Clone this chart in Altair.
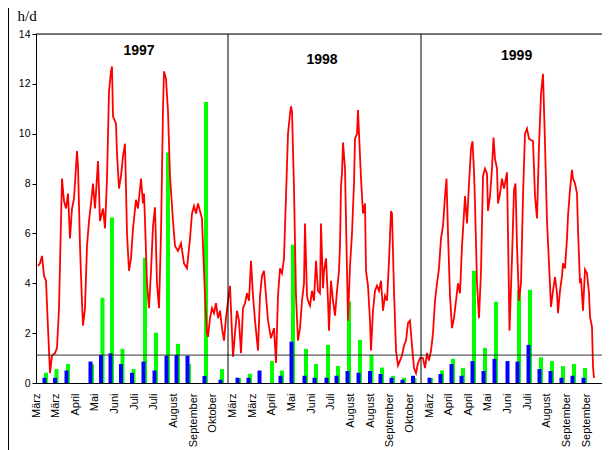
import altair as alt
import pandas as pd

# x-axis category labels (one every 9.825 index units)
month_labels = ["März", "März", "April", "Mai", "Juni", "Juli", "Juli", "August", "September", "Oktober",
                "März", "März", "April", "Mai", "Juni", "Juli", "August", "August", "September", "Oktober",
                "März", "April", "April", "Mai", "Juni", "Juli", "August", "September", "September", "Oktober"]
label_step = 9.825
year_names = ["1997", "1998", "1999"]
year_title_pos = [51.5, 143, 240.3]
year_title_val = [13.31, 12.95, 13.13]
year_bounds = [96, 192.5]
threshold = 1.12

# daily sunshine line (index, h/d)
line97_idx = [1, 2, 3, 4, 5, 6, 7, 8, 9.5, 10.5, 11.5, 12.5, 13, 14, 15, 16, 17, 18, 19, 20.5, 21, 22, 23, 23.5,
              24.5, 25.5, 26.5, 27.5, 28.5, 29.5, 31, 32, 33.5, 34.5, 35.5, 36.5, 37.5, 38, 38.5, 40, 40.5,
              41.5, 42.5, 43.5, 44.5, 45.5, 46.5, 47.5, 48.5, 50, 51, 52.5, 53.5, 54, 54.5, 55.5, 56.5, 57.5, 58.5,
              59.5, 60.5, 61.5, 62.5, 63.5, 64, 65, 66, 67, 68.5, 69.5, 71, 72.5, 74, 75.5, 77, 78, 79, 80, 81,
              82, 83, 83.5, 84.5, 85.5, 86, 87, 88, 89, 90, 91, 92, 93, 94, 95]
line97_val = [4.7, 4.8, 5.1, 4.3, 4.1, 2.2, 0.4, 1.1, 1.2, 1.4, 3.0, 6.5, 8.2, 7.3, 7.0, 7.6, 5.8, 7.0, 7.4, 9.3,
              8.7, 5.5, 3.2, 2.3, 3.0, 5.5, 6.5, 7.2, 8.0, 7.0, 8.9, 6.5, 7.0, 6.2, 8.2, 11.7, 12.5, 12.7, 10.7,
              10.4, 9.2, 7.8, 8.3, 9.1, 9.6, 6.0, 4.5, 5.0, 6.2, 7.35, 7.0, 8.2, 7.2, 7.6, 6.5, 4.0, 3.0, 4.5, 6.3,
              7.05, 4.0, 3.0, 6.0, 11.0, 12.5, 12.2, 10.9, 8.3, 6.5, 5.5, 5.3, 5.6, 4.8, 4.6, 5.8, 6.8, 7.1, 6.8,
              7.2, 6.9, 6.6, 5.5, 3.5, 2.0, 1.85, 2.6, 3.0, 2.8, 3.2, 2.6, 2.9, 2.2, 1.7, 2.6]
line98_idx = [96, 97, 98, 98.5, 99.5, 100.5, 101.5, 102.5, 103.5, 104.5, 105.5, 106.5, 107.5, 108.5, 109.5, 111,
              112, 113, 114, 115, 116, 117.5, 119, 120, 121, 122, 123, 124, 125, 126, 127, 127.5, 128, 129, 130,
              131, 132, 133, 134, 134.5, 135.5, 136, 137, 138, 139, 140, 141, 142, 142.5, 143.5, 144, 145, 146,
              146.5, 147.5, 148.5, 149.5, 150.5, 151.5, 152, 152.5, 153, 153.5, 154.5, 155.5, 156, 157, 158, 159,
              159.5, 160.5, 161, 162, 162.5, 163.5, 164.5, 165, 166, 167, 167.5, 168.5, 169.5, 170.5, 171.5, 172.5,
              173.5, 174.5, 175.5, 176.5, 177.5, 178, 179, 180, 181, 182, 183, 184, 185, 186, 187, 188, 189,
              190, 191, 192]
line98_val = [3.3, 3.9, 2.0, 1.05, 2.0, 2.9, 2.5, 1.2, 3.0, 3.2, 3.6, 3.3, 4.9, 3.5, 2.5, 1.3, 3.5, 4.3, 4.5, 3.5,
              2.5, 1.8, 2.2, 0.8, 3.5, 4.6, 4.4, 5.0, 7.5, 10.0, 10.8, 11.1, 10.9, 7.8, 3.5, 1.7, 2.2, 3.3, 4.0,
              6.4, 3.5, 3.3, 3.1, 3.7, 3.3, 4.9, 3.7, 3.6, 6.4, 3.8, 4.5, 5.0, 3.3,
              2.1, 4.1, 3.3, 2.7, 3.7, 4.5, 5.5, 7.9, 8.4, 9.65, 8.6, 4.5, 2.5, 4.7, 6.0, 8.0,
              9.8, 10.0, 10.95, 9.1, 8.2, 6.8, 7.2, 4.5, 3.9, 2.5, 1.3, 2.9, 3.7, 3.9, 3.7, 4.1,
              2.9, 3.5, 3.3, 4.9, 6.9, 6.8, 3.7, 1.3, 0.7, 0.9, 1.1, 1.5, 1.7, 2.4, 2.5, 1.5, 0.6,
              0.4, 0.8, 1.0]
line99_idx = [193.5, 194.5, 195.5, 196.5, 197.5, 198.5, 199.5, 200.5, 201.5, 202.5, 203.5, 204.5, 205.25, 206,
              207, 208, 209, 210, 211, 212, 213, 214, 214.5, 215.5, 216.5, 217.5, 218.25, 219, 219.5, 220.5,
              221.5, 222.5, 223.5, 224.5, 225.5, 226, 227, 228, 228.75, 229.5, 230.5, 231, 232, 233, 234, 235.5,
              236, 236.75, 238, 239, 239.75, 240.5, 241.5, 242.5, 243.5, 244.5, 245.5, 246.5, 247.5, 248.5,
              249.5, 250.5, 251.5, 252.5, 253.5, 254.5, 255.5, 256.5, 257.5, 258.5, 259.5, 260.5, 261, 262, 263,
              263.5, 264.5, 265.5, 266, 267, 268, 268.5, 269.5, 270.5, 271, 272, 272.5, 273.5, 274.5, 275.5,
              276.5, 277, 278, 278.5, 279]
line99_val = [1.0, 0.6, 1.2, 0.9, 1.3, 2.0, 3.3, 4.0, 4.6, 5.8, 6.3, 7.5, 8.2, 6.0,
              3.5, 2.2, 2.6, 3.3, 4.0, 3.6, 5.5, 6.8, 7.5, 6.4, 8.0, 9.4, 9.7, 8.5, 7.2, 4.0,
              2.6, 4.5, 8.3, 8.6, 8.4, 6.9, 7.5, 8.6, 9.85, 9.0, 8.6, 7.2, 7.6, 8.2, 7.8, 8.45,
              6.0, 2.1, 5.0, 7.75, 8.0, 5.5, 3.3, 4.0, 7.5, 10.0, 10.2, 9.8, 9.75, 9.7,
              7.5, 6.6, 9.5, 11.6, 12.4, 9.6, 6.5, 4.8, 3.05, 3.7, 4.25, 3.6, 2.8, 3.7, 4.3,
              4.8, 4.6, 5.8, 6.7, 7.75, 8.55, 8.2, 8.0, 7.6, 6.15, 4.0, 4.2, 2.9, 4.55, 4.4,
              3.6, 2.65, 2.25, 0.65, 0.2]

# periodic bars (index, green, blue)
bar_idx = [4.5, 9.75, 15.5, 27.5, 32.75, 37.5, 42.75, 48.25, 54, 59.5, 65.5, 70.5, 76, 84.5, 92.5,
           101, 106.5, 112, 117.5, 122.5, 128, 134.5, 139.5, 145.5, 150.5, 156, 161.5, 167.25, 172.5, 178, 183.5, 188.75,
           197, 202.5, 208, 213, 218.5, 224, 229.5, 236, 241, 246.5, 252, 257.5, 263, 268.5, 274]
green_val = [0.41, 0.56, 0.76, 0.76, 3.42, 6.64, 1.37, 0.56, 5.03, 2.02, 9.25, 1.57, 0.76, 11.27, 0.56,
             0.2, 0.37, 0, 0.88, 0.5, 5.55, 1.37, 0.76, 1.53, 0.68, 3.27, 1.73, 1.13, 0.62, 0.29, 0.21, 0.2,
             0.2, 0.5, 0.97, 0.6, 4.5, 1.41, 3.26, 0, 3.74, 3.74, 1.03, 0.88, 0.68, 0.76, 0.6]
blue_val = [0.21, 0.21, 0.5, 0.86, 1.13, 1.19, 0.76, 0.41, 0.86, 0.5, 1.1, 1.13, 1.1, 0.28, 0.13,
            0.21, 0.21, 0.5, 0, 0.29, 1.66, 0.29, 0.21, 0.21, 0.29, 0.48, 0.41, 0.48, 0.36, 0.21, 0.13, 0.29,
            0.21, 0.36, 0.76, 0.29, 0.88, 0.48, 0.97, 0.88, 0.86, 1.53, 0.56, 0.48, 0.21, 0.29, 0.21]

line_df = pd.DataFrame({"idx": line97_idx + line98_idx + line99_idx,
                        "v": line97_val + line98_val + line99_val})
bar_df = pd.DataFrame({"idx": bar_idx, "green": green_val, "blue": blue_val})
years_df = pd.DataFrame({"name": year_names, "idx": year_title_pos, "v": year_title_val})
bounds_df = pd.DataFrame({"idx": year_bounds})
level_df = pd.DataFrame({"t": [threshold], "top": [14]})

FONT = "Liberation Sans"
xscale = alt.Scale(domain=[0, 283], nice=False, zero=False, padding=0)
yscale = alt.Scale(domain=[0, 14], nice=False, padding=0)

tick_values = [round(k * label_step, 3) for k in range(len(month_labels))]
label_array = "[" + ",".join("'" + m + "'" for m in month_labels) + "]"

xaxis = alt.Axis(values=tick_values, labelExpr=label_array + "[round(datum.value / " + str(label_step) + ")]",
                 labelAngle=-90, labelAlign="right", labelBaseline="middle", labelPadding=10,
                 ticks=False, tickSize=0, grid=False, domainColor="black", labelColor="black",
                 labelFont=FONT, labelFontSize=11, title=None, labelOverlap=False, labelBound=False,
                 labelFlush=False)
yaxis = alt.Axis(values=list(range(0, 15, 2)), tickSize=4, tickColor="black", domainColor="black",
                 labelColor="black", labelFont=FONT, labelFontSize=10.5, labelPadding=2, grid=False,
                 title="h/d", titleAngle=0, titleAlign="left", titleBaseline="alphabetic",
                 titleX=-19, titleY=-14, titleFont="Liberation Serif", titleFontSize=15,
                 titleFontWeight="normal", titleColor="black", labelOverlap=False)

x_enc = alt.X("idx:Q", scale=xscale, axis=xaxis)
y_main = alt.Y("v:Q", scale=yscale, axis=yaxis)

green = alt.Chart(bar_df).mark_bar(color="#00FF00", size=4, xOffset=1).encode(
    x=x_enc, y=alt.Y("green:Q", scale=yscale, axis=yaxis, stack=None))
blue = alt.Chart(bar_df).mark_bar(color="#0000FF", size=4, xOffset=-0.5).encode(
    x=x_enc, y=alt.Y("blue:Q", scale=yscale, axis=yaxis, stack=None))
line = alt.Chart(line_df).mark_line(color="#FF0000", strokeWidth=1.8).encode(x=x_enc, y=y_main)
hline = alt.Chart(level_df).mark_rule(color="#333333", strokeWidth=1).encode(
    y=alt.Y("t:Q", scale=yscale, axis=yaxis))
top = alt.Chart(level_df).mark_rule(color="black", strokeWidth=1).encode(
    y=alt.Y("top:Q", scale=yscale, axis=yaxis))
seps = alt.Chart(bounds_df).mark_rule(color="black", strokeWidth=1).encode(x=x_enc)
titles = alt.Chart(years_df).mark_text(font=FONT, fontSize=14, fontWeight="bold", color="black",
                                        baseline="middle", align="center").encode(x=x_enc, y=y_main, text="name:N")
frame = alt.Chart(level_df).mark_rule(color="black", strokeWidth=1).encode(
    x=alt.value(-27.5), y=alt.value(-26), y2=alt.value(420))

chart = alt.layer(green, blue, line, hline, top, seps, titles, frame).properties(
    width=566, height=349,
    autosize=alt.AutoSizeParams(type="none"),
    padding={"left": 28, "top": 26, "right": 0, "bottom": 67},
).configure_view(stroke=None).configure(background="white").configure_axis(labelOverlap=False)

chart.save("out.html", embed_options={"renderer": "svg", "actions": False})
